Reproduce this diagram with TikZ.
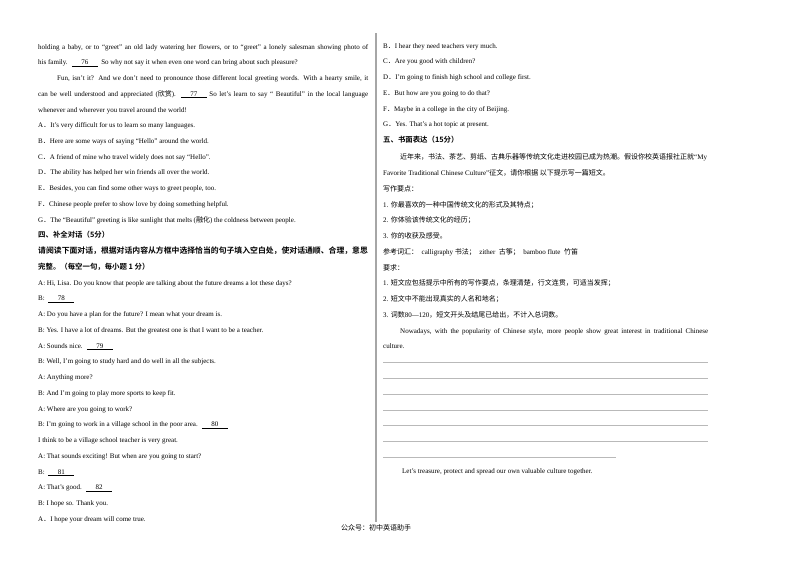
\documentclass[tikz,border=0pt]{standalone}
\usepackage{fontspec}
\setmainfont{Liberation Serif}
\newfontfamily\cjk{Noto Sans CJK SC}[BoldFont={* Bold}]
\usetikzlibrary{positioning}
\def\zh#1{{\cjk #1}}
\def\fstop{{\cjk ．}}
\newcommand\blankno[1]{\underline{\hbox to 26pt{\hfil #1\hfil}}}
\newcommand\spreadline[2]{\makebox[#1][s]{#2}}

\begin{document}
\begin{tikzpicture}[x=1pt,y=-1pt,
		txt/.style={anchor=base west,inner sep=0pt,font=\fontsize{7}{8}\selectfont},
		head/.style={txt,font=\fontsize{7.4}{8}\selectfont\cjk\bfseries},
		rule/.style={draw=gray!55,line width=0.6pt}]
	\useasboundingbox[fill=white] (0,0) rectangle (800,566);

	% left column
	\node[txt] (l1)  at (38,49.0)  {\spreadline{330pt}{holding a baby, or to ``greet'' an old lady watering her flowers, or to ``greet'' a lonely salesman showing photo of}};
	\node[txt] (l2)  at (38,64.7)  {his family. \ \blankno{76} \ So why not say it when even one word can bring about such pleasure?};
	\node[txt] (l3)  at (57,80.5)  {\spreadline{311pt}{Fun, isn't it? And we don't need to pronounce those different local greeting words. With a hearty smile, it}};
	\node[txt] (l4)  at (38,96.2)  {\spreadline{330pt}{can be well understood and appreciated (\zh{欣赏}). \blankno{77} So let's learn to say `` Beautiful'' in the local language}};
	\node[txt] (l5)  at (38,112.0) {whenever and wherever you travel around the world!};
	\node[txt] (l6)  at (38,127.7) {A\fstop It's very difficult for us to learn so many languages.};
	\node[txt] (l7)  at (38,143.4) {B\fstop Here are some ways of saying ``Hello'' around the world.};
	\node[txt] (l8)  at (38,159.2) {C\fstop A friend of mine who travel widely does not say ``Hello''.};
	\node[txt] (l9)  at (38,174.9) {D\fstop The ability has helped her win friends all over the world.};
	\node[txt] (l10) at (38,190.7) {E\fstop Besides, you can find some other ways to greet people, too.};
	\node[txt] (l11) at (38,206.4) {F\fstop Chinese people prefer to show love by doing something helpful.};
	\node[txt] (l12) at (38,222.1) {G\fstop The ``Beautiful'' greeting is like sunlight that melts (\zh{融化}) the coldness between people.};
	\node[head] (l13) at (38,237.9) {四、补全对话（5分）};
	\node[head,font=\fontsize{7.85}{8}\selectfont\cjk\bfseries] (l14) at (38,253.6) {请阅读下面对话，根据对话内容从方框中选择恰当的句子填入空白处，使对话通顺、合理，意思};
	\node[head] (l15) at (38,269.4) {完整。（每空一句，每小题 1 分）};
	\node[txt] (l16) at (38,285.1) {A: Hi, Lisa. Do you know that people are talking about the future dreams a lot these days?};
	\node[txt] (l17) at (38,300.8) {B: \ \blankno{78}};
	\node[txt] (l18) at (38,316.6) {A: Do you have a plan for the future? I mean what your dream is.};
	\node[txt] (l19) at (38,332.3) {B: Yes. I have a lot of dreams. But the greatest one is that I want to be a teacher.};
	\node[txt] (l20) at (38,348.1) {A: Sounds nice. \ \blankno{79}};
	\node[txt] (l21) at (38,363.8) {B: Well, I'm going to study hard and do well in all the subjects.};
	\node[txt] (l22) at (38,379.5) {A: Anything more?};
	\node[txt] (l23) at (38,395.3) {B: And I'm going to play more sports to keep fit.};
	\node[txt] (l24) at (38,411.0) {A: Where are you going to work?};
	\node[txt] (l25) at (38,426.8) {B: I'm going to work in a village school in the poor area. \ \blankno{80}};
	\node[txt] (l26) at (38,442.5) {I think to be a village school teacher is very great.};
	\node[txt] (l27) at (38,458.2) {A: That sounds exciting! But when are you going to start?};
	\node[txt] (l28) at (38,474.0) {B: \ \blankno{81}};
	\node[txt] (l29) at (38,489.7) {A: That's good. \ \blankno{82}};
	\node[txt] (l30) at (38,505.5) {B: I hope so. Thank you.};
	\node[txt] (l31) at (38,521.2) {A\fstop I hope your dream will come true.};

	% divider and footer
	\coordinate (dtop) at (376,33);
	\coordinate (dbot) at (376,522);
	\draw[gray!70,line width=1.1pt] (dtop) -- (dbot);
	\node[txt,anchor=base] (foot) at (376,530.5) {\zh{公众号：初中英语助手}};

	% right column
	\node[txt] (r1)  at (383,48.0)  {B\fstop I hear they need teachers very much.};
	\node[txt] (r2)  at (383,63.8)  {C\fstop Are you good with children?};
	\node[txt] (r3)  at (383,79.5)  {D\fstop I'm going to finish high school and college first.};
	\node[txt] (r4)  at (383,95.3)  {E\fstop But how are you going to do that?};
	\node[txt] (r5)  at (383,111.0) {F\fstop Maybe in a college in the city of Beijing.};
	\node[txt] (r6)  at (383,126.8) {G\fstop Yes. That's a hot topic at present.};
	\node[head] (r7) at (383,142.5) {五、书面表达（15分）};
	\node[txt] (r8)  at (400,159.8) {\zh{近年来，书法、茶艺、剪纸、古典乐器等传统文化走进校园已成为热潮。假设你校英语报社正就}``My};
	\node[txt] (r9)  at (383,175.6) {Favorite Traditional Chinese Culture''\zh{征文，请你根据 以下提示写一篇短文。}};
	\node[txt] (r10) at (383,191.3) {\zh{写作要点：}};
	\node[txt] (r11) at (383,207.1) {1. \zh{你最喜欢的一种中国传统文化的形式及其特点；}};
	\node[txt] (r12) at (383,222.8) {2. \zh{你体验该传统文化的经历；}};
	\node[txt] (r13) at (383,238.6) {3. \zh{你的收获及感受。}};
	\node[txt] (r14) at (383,254.3) {\zh{参考词汇：} \ calligraphy \zh{书法；} \ zither \ \zh{古筝；} \ bamboo flute \ \zh{竹笛}};
	\node[txt] (r15) at (383,270.1) {\zh{要求：}};
	\node[txt] (r16) at (383,285.8) {1. \zh{短文应包括提示中所有的写作要点，条理清楚，行文连贯，可适当发挥；}};
	\node[txt] (r17) at (383,301.6) {2. \zh{短文中不能出现真实的人名和地名；}};
	\node[txt] (r18) at (383,317.3) {3. \zh{词数}80—120\zh{，短文开头及结尾已给出，不计入总词数。}};
	\node[txt] (r19) at (400,333.1) {\spreadline{308pt}{Nowadays, with the popularity of Chinese style, more people show great interest in traditional Chinese}};
	\node[txt] (r20) at (383,348.8) {culture.};

	% writing lines
	\foreach \y/\e [count=\i] in {362/708,378/708,394/708,410/708,425.5/708,441/708,457/616} {
		\coordinate (ra\i) at (383,\y);
		\coordinate (rb\i) at (\e,\y);
		\draw[rule] (ra\i) -- (rb\i);
	}
	\node[txt] (r21) at (402,473.3) {Let's treasure, protect and spread our own valuable culture together.};
\end{tikzpicture}
\end{document}
